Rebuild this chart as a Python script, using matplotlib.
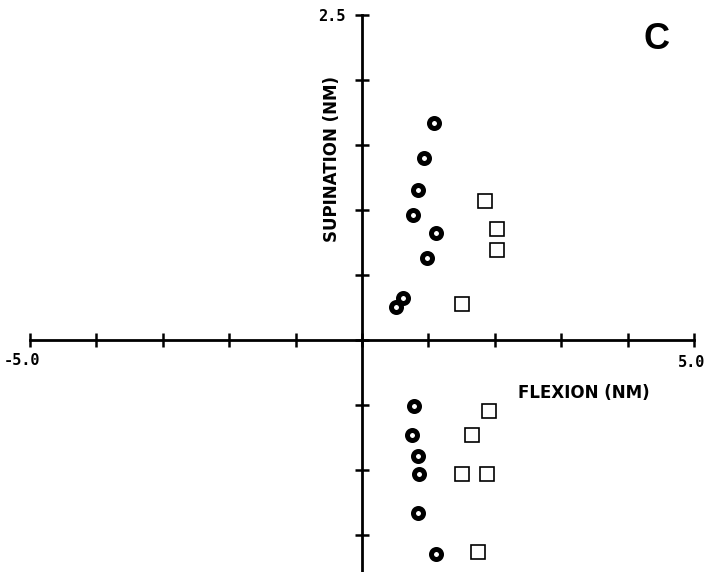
import matplotlib
matplotlib.use("Agg")
import matplotlib.pyplot as plt
import numpy as np

# circles (open, thick ring)
circ_x = [1.08, 0.93, 0.84, 0.77, 1.12, 0.98, 0.62, 0.51,
          0.78, 0.75, 0.84, 0.86, 0.84, 1.12]
circ_y = [1.67, 1.40, 1.15, 0.96, 0.82, 0.63, 0.32, 0.25,
          -0.51, -0.73, -0.89, -1.03, -1.33, -1.65]

# squares (open, thin)
sq_x = [1.86, 2.03, 2.03, 1.50, 1.91, 1.65, 1.50, 1.89, 1.75]
sq_y = [1.07, 0.85, 0.69, 0.28, -0.55, -0.73, -1.03, -1.03, -1.63]

xticks = np.arange(-5, 6, 1)
yticks = np.arange(-1.5, 2.6, 0.5)

fig = plt.figure(figsize=(7.07, 5.72), dpi=100)
ax = fig.add_axes([0, 0, 1, 1])
ax.set_xlim(-5.452, 5.196)
ax.set_ylim(-1.785, 2.615)

for s in ["top", "right"]:
    ax.spines[s].set_visible(False)
ax.spines["left"].set_position("zero")
ax.spines["bottom"].set_position("zero")
ax.spines["bottom"].set_bounds(-5, 5)
ax.spines["left"].set_bounds(-1.785, 2.5)
for s in ["left", "bottom"]:
    ax.spines[s].set_linewidth(2.0)

ax.set_xticks(xticks)
ax.set_yticks(yticks)
ax.set_xticklabels([])
ax.set_yticklabels([])
ax.tick_params(direction="inout", length=10, width=1.8)

ax.plot(circ_x, circ_y, "o", ms=7.2, mew=3.6, mec="black", mfc="white",
        linestyle="none")
ax.plot(sq_x, sq_y, "s", ms=9.5, mew=1.2, mec="black", mfc="white",
        linestyle="none")

mono = dict(family="DejaVu Sans Mono", weight="bold", fontsize=11)
ax.text(-5.12, -0.16, "-5.0", ha="center", va="center", **mono)
ax.text(4.97, -0.17, "5.0", ha="center", va="center", **mono)
ax.text(-0.25, 2.49, "2.5", ha="right", va="center", **mono)

ax.text(3.34, -0.41, "FLEXION (NM)", ha="center", va="center",
        fontsize=12, fontweight="bold")
ax.text(-0.45, 1.39, "SUPINATION (NM)", ha="center", va="center",
        rotation=90, fontsize=12, fontweight="bold")
ax.text(4.44, 2.31, "C", ha="center", va="center", fontsize=26,
        family="Liberation Sans", fontweight="bold")

fig.savefig("out.png", dpi=100)
